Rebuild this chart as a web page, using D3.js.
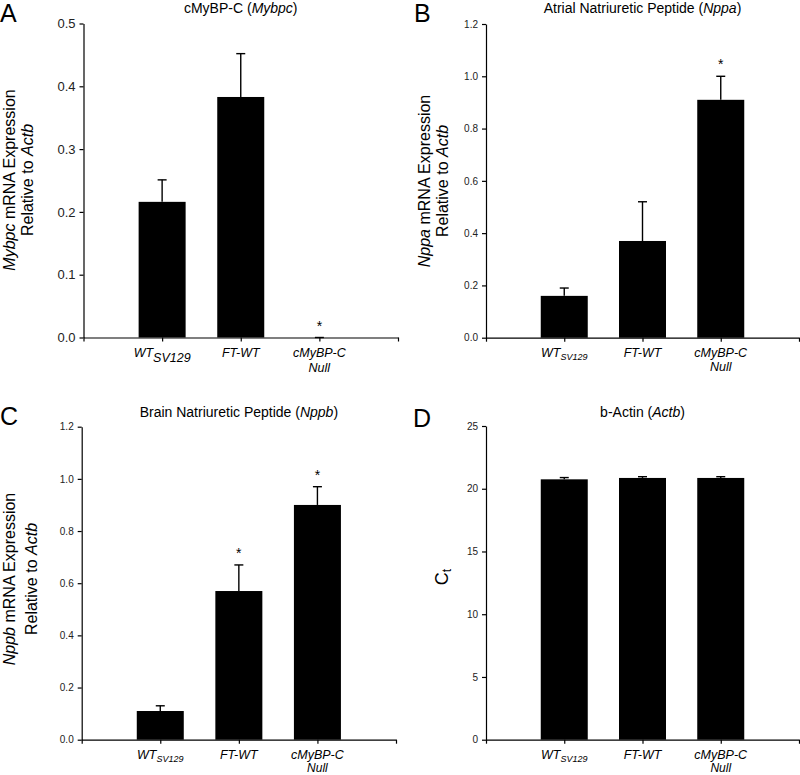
<!DOCTYPE html>
<html>
<head>
<meta charset="utf-8">
<script src="https://cdn.jsdelivr.net/npm/d3@7"></script>
<style>
  html, body { margin: 0; padding: 0; background: #fff; }
  svg { display: block; font-family: "Liberation Sans", Arial, Helvetica, sans-serif; }
</style>
</head>
<body>
<svg id="chart" width="800" height="775"></svg>
<script>
// ---------- data ----------
const categories = ["WT_SV129", "FT-WT", "cMyBP-C Null"];
const categoryMain = ["WT", "FT-WT", "cMyBP-C"];
const categorySub = ["SV129", "", ""];
const categoryLine2 = ["", "", "Null"];

const mybpcMean = [0.216, 0.383, 0.0];
const mybpcErr  = [0.035, 0.069, 0.0];
const mybpcSig  = [false, false, true];
const mybpcTicks = [0.0, 0.1, 0.2, 0.3, 0.4, 0.5];

const nppaMean = [0.16, 0.37, 0.91];
const nppaErr  = [0.03, 0.15, 0.09];
const nppaSig  = [false, false, true];
const nppaTicks = [0.0, 0.2, 0.4, 0.6, 0.8, 1.0, 1.2];

const nppbMean = [0.11, 0.57, 0.90];
const nppbErr  = [0.02, 0.10, 0.07];
const nppbSig  = [false, true, true];
const nppbTicks = [0.0, 0.2, 0.4, 0.6, 0.8, 1.0, 1.2];

const actbMean = [20.75, 20.86, 20.86];
const actbErr  = [0.14, 0.10, 0.10];
const actbSig  = [false, false, false];
const actbTicks = [0, 5, 10, 15, 20, 25];

const svg = d3.select("#chart");

function drawPanel(p) {
  const g = svg.append("g");
  const y = d3.scaleLinear().domain([p.ticks[0], p.ticks[p.ticks.length - 1]]).range([p.bottom, p.top]);
  const x = d3.scalePoint().domain(categories).range([p.left, p.right]).padding(1);
  const xi = d3.scaleLinear().domain([0, 4]).range([p.left, p.right]);
  const barW = 47;

  // panel letter
  g.append("text").attr("x", p.letterX).attr("y", p.letterY)
    .attr("font-size", 25).attr("fill", "#000").text(p.letter);

  // title
  const t = g.append("text").attr("x", (p.left + p.right) / 2).attr("y", p.titleY)
    .attr("text-anchor", "middle").attr("font-size", 14).attr("fill", "#000");
  t.append("tspan").text(p.titlePre + " (");
  t.append("tspan").attr("font-style", "italic").text(p.titleGene);
  t.append("tspan").text(")");

  // bars
  const data = categories.map((c, i) => ({ c, m: p.mean[i], e: p.err[i], s: p.sig[i], i }));
  g.selectAll("rect.bar").data(data).enter().append("rect")
    .attr("x", d => x(d.c) - barW / 2).attr("width", barW)
    .attr("y", d => y(d.m)).attr("height", d => y(p.ticks[0]) - y(d.m))
    .attr("fill", "#000");

  // error bars (upward)
  g.selectAll("line.err").data(data).enter().append("line")
    .attr("x1", d => x(d.c)).attr("x2", d => x(d.c))
    .attr("y1", d => y(d.m)).attr("y2", d => y(d.m + d.e))
    .attr("stroke", "#000").attr("stroke-width", 1.4);
  g.selectAll("line.cap").data(data).enter().append("line")
    .attr("x1", d => x(d.c) - 4.5).attr("x2", d => x(d.c) + 4.5)
    .attr("y1", d => y(d.m + d.e)).attr("y2", d => y(d.m + d.e))
    .attr("stroke", "#000").attr("stroke-width", 1.4);

  // significance asterisks
  g.selectAll("text.sig").data(data.filter(d => d.s)).enter().append("text")
    .attr("x", d => x(d.c)).attr("y", d => y(d.m + d.e) - 7)
    .attr("text-anchor", "middle").attr("font-size", 14).attr("fill", "#000").text("*");

  // y axis
  const ya = g.append("g").attr("transform", `translate(${p.left},0)`)
    .call(d3.axisLeft(y).tickValues(p.ticks).tickSizeInner(4).tickSizeOuter(0).tickPadding(4)
      .tickFormat(p.fmt));
  ya.selectAll("text").attr("font-size", p.tickFont).attr("fill", "#222")
    .attr("font-family", "\"Liberation Sans\", Arial, sans-serif");
  ya.select(".domain").attr("stroke-width", 1.2);
  ya.selectAll(".tick line").attr("stroke-width", 1.2);

  // x axis
  const xa = g.append("g").attr("transform", `translate(0,${p.bottom})`)
    .call(d3.axisBottom(xi).tickValues([0, 1, 2, 3, 4]).tickSizeInner(4).tickSizeOuter(0).tickFormat(""));
  xa.select(".domain").attr("stroke-width", 1.2);
  xa.selectAll(".tick line").attr("stroke-width", 1.2);

  // category labels
  categories.forEach((c, i) => {
    const tx = g.append("text").attr("x", x(c)).attr("y", p.bottom + p.catDy)
      .attr("text-anchor", "middle").attr("font-style", "italic")
      .attr("font-size", p.catFont).attr("fill", "#000");
    tx.append("tspan").attr("font-size", p.wtFont).text(categoryMain[i]);
    if (categorySub[i]) {
      tx.append("tspan").attr("font-size", p.subFont).attr("dy", p.subDy).text(categorySub[i]);
    }
    if (categoryLine2[i]) {
      g.append("text").attr("x", x(c)).attr("y", p.bottom + p.catDy + p.line2Dy)
        .attr("text-anchor", "middle").attr("font-style", "italic")
        .attr("font-size", p.catFont).attr("fill", "#000").text(categoryLine2[i]);
    }
  });

  // y label
  const cy = p.labelCy;
  if (p.ct) {
    const yl = g.append("text").attr("transform", `translate(${p.labelX1},${cy}) rotate(-90)`)
      .attr("text-anchor", "middle").attr("font-size", 18).attr("fill", "#000");
    yl.append("tspan").text("C");
    yl.append("tspan").attr("font-size", 12).attr("dy", 3).text("t");
  } else {
    const l1 = g.append("text").attr("transform", `translate(${p.labelX1},${cy}) rotate(-90)`)
      .attr("text-anchor", "middle").attr("font-size", 16).attr("fill", "#000");
    l1.append("tspan").attr("font-style", "italic").text(p.titleGene);
    l1.append("tspan").text(" mRNA Expression");
    const l2 = g.append("text").attr("transform", `translate(${p.labelX2},${cy}) rotate(-90)`)
      .attr("text-anchor", "middle").attr("font-size", 16).attr("fill", "#000");
    l2.append("tspan").text("Relative to ");
    l2.append("tspan").attr("font-style", "italic").text("Actb");
  }
}

const f1 = d3.format(".1f");
const f0 = d3.format("d");

drawPanel({ letter: "A", letterX: 0, letterY: 22, titlePre: "cMyBP-C", titleGene: "Mybpc", titleY: 13,
  left: 83.5, right: 398, top: 23.5, bottom: 337.5, ticks: mybpcTicks, fmt: f1, tickFont: 13,
  mean: mybpcMean, err: mybpcErr, sig: mybpcSig,
  catDy: 19.5, line2Dy: 14.5, catFont: 12.5, wtFont: 12.5, subFont: 12.5, subDy: 5,
  labelX1: 15, labelX2: 33, labelCy: 180 });

drawPanel({ letter: "B", letterX: 414, letterY: 22, titlePre: "Atrial Natriuretic Peptide", titleGene: "Nppa", titleY: 13,
  left: 486, right: 799, top: 24, bottom: 337.7, ticks: nppaTicks, fmt: f1, tickFont: 10,
  mean: nppaMean, err: nppaErr, sig: nppaSig,
  catDy: 19.5, line2Dy: 13.5, catFont: 12.5, wtFont: 12.5, subFont: 9, subDy: 3,
  labelX1: 430, labelX2: 448, labelCy: 181 });

drawPanel({ letter: "C", letterX: 0, letterY: 425, titlePre: "Brain Natriuretic Peptide", titleGene: "Nppb", titleY: 417,
  left: 81.7, right: 396, top: 426.7, bottom: 739.7, ticks: nppbTicks, fmt: f1, tickFont: 10,
  mean: nppbMean, err: nppbErr, sig: nppbSig,
  catDy: 19.5, line2Dy: 13, catFont: 12, wtFont: 12.5, subFont: 9, subDy: 3,
  labelX1: 15, labelX2: 37, labelCy: 579 });

drawPanel({ letter: "D", letterX: 413, letterY: 427, titlePre: "b-Actin", titleGene: "Actb", titleY: 417,
  left: 486, right: 799, top: 426, bottom: 739.7, ticks: actbTicks, fmt: f0, tickFont: 10,
  mean: actbMean, err: actbErr, sig: actbSig,
  catDy: 19.5, line2Dy: 13, catFont: 12, wtFont: 12.5, subFont: 9, subDy: 3,
  labelX1: 448, labelX2: 448, labelCy: 577, ct: true });
</script>
</body>
</html>
